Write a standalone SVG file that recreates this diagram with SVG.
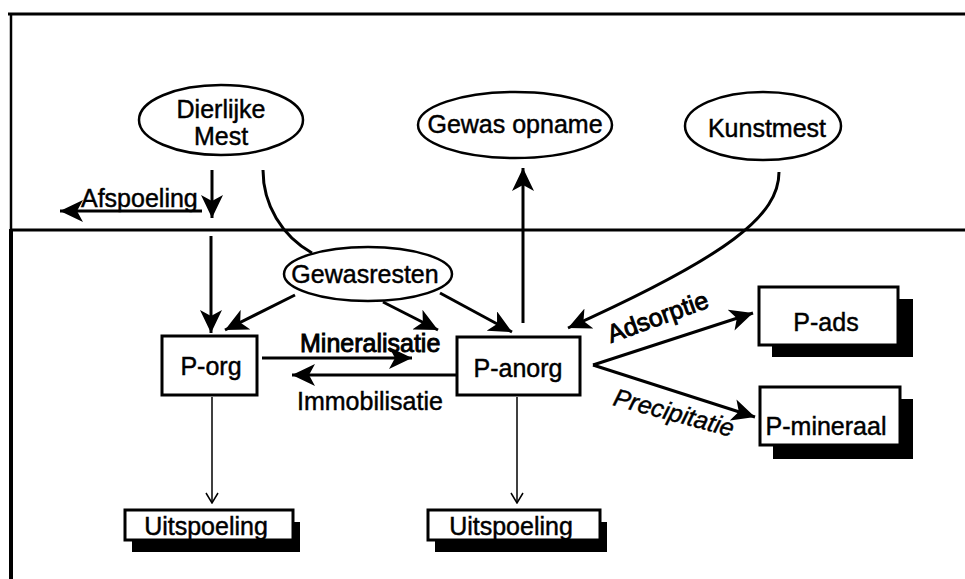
<svg xmlns="http://www.w3.org/2000/svg" width="965" height="579" viewBox="0 0 965 579">
  <style>
    .t{font-family:"Liberation Sans",Arial,Helvetica,sans-serif;font-size:25px;fill:#000;stroke:#000;stroke-width:0.45}
    .b{stroke-width:0.9}
    .c{text-anchor:middle}
    .box{fill:#fff;stroke:#000;stroke-width:3}
    .oval{fill:#fff;stroke:#000;stroke-width:2.5}
    .shadow{fill:#000}
    .ln{fill:none;stroke:#000;stroke-width:3}
    .thin{fill:none;stroke:#000;stroke-width:1.5}
    .frame{fill:none;stroke:#000}
  </style>
  <defs>
    <!-- barbed filled arrowhead -->
    <marker id="ah" markerUnits="userSpaceOnUse" markerWidth="24" markerHeight="22" viewBox="0 0 24 22" refX="23" refY="11" orient="auto">
      <path d="M0,0 L23,11 L0,22 L6,11 Z" fill="#000"/>
    </marker>
    <!-- small open arrowhead for leaching lines -->
    <marker id="av" markerUnits="userSpaceOnUse" markerWidth="12" markerHeight="14" viewBox="0 0 12 14" refX="11" refY="7" orient="auto">
      <path d="M1,1 L11,7 L1,13" fill="none" stroke="#000" stroke-width="1.5"/>
    </marker>
  </defs>

  <rect width="965" height="579" fill="#fff"/>

  <!-- frame and soil surface -->
  <g id="frame">
    <line class="frame" x1="8" y1="14" x2="965" y2="14" stroke-width="3"/>
    <line class="frame" x1="11" y1="13" x2="11" y2="231" stroke-width="2.5"/>
    <line class="frame" x1="11" y1="229" x2="11" y2="579" stroke-width="4"/>
    <line class="frame" x1="10" y1="230" x2="965" y2="230" stroke-width="3"/>
  </g>

  <!-- connectors -->
  <g id="connectors">
    <line class="ln" x1="212" y1="170" x2="212" y2="218" marker-end="url(#ah)"/>
    <line class="ln" x1="202" y1="211" x2="60" y2="211" marker-end="url(#ah)"/>
    <path class="ln" d="M263,170 C263,205 282,236 312,253"/>
    <line class="ln" x1="211" y1="236" x2="211" y2="333" marker-end="url(#ah)"/>
    <line class="ln" x1="295" y1="295" x2="225" y2="330" marker-end="url(#ah)"/>
    <line class="ln" x1="383" y1="302" x2="438" y2="330" marker-end="url(#ah)"/>
    <line class="ln" x1="440" y1="293" x2="512" y2="332" marker-end="url(#ah)"/>
    <line class="ln" x1="262" y1="358" x2="412" y2="358" marker-end="url(#ah)"/>
    <line class="ln" x1="457" y1="375" x2="292" y2="375" marker-end="url(#ah)"/>
    <line class="ln" x1="523" y1="323" x2="523" y2="168" marker-end="url(#ah)"/>
    <path class="ln" d="M779,172 C779,215 730,255 568,328" marker-end="url(#ah)"/>
    <line class="ln" x1="593" y1="365" x2="753" y2="313" marker-end="url(#ah)"/>
    <line class="ln" x1="593" y1="365" x2="755" y2="417" marker-end="url(#ah)"/>
    <line class="thin" x1="212" y1="397" x2="212" y2="503" marker-end="url(#av)"/>
    <line class="thin" x1="517" y1="397" x2="517" y2="503" marker-end="url(#av)"/>
  </g>

  <!-- process labels -->
  <g id="labels">
    <text class="t" x="81" y="207">Afspoeling</text>
    <text class="t b" x="300" y="352">Mineralisatie</text>
    <text class="t" x="297" y="410">Immobilisatie</text>
    <text class="t b" x="611" y="343" transform="rotate(-20 611 343)">Adsorptie</text>
    <text class="t" x="612" y="405" font-style="italic" transform="rotate(15 612 405)">Precipitatie</text>
  </g>

  <!-- sources above the soil surface -->
  <g id="dierlijke-mest">
    <ellipse class="oval" cx="221" cy="120" rx="82" ry="35"/>
    <text class="t c" x="221" y="118">Dierlijke</text>
    <text class="t c" x="221" y="145">Mest</text>
  </g>
  <g id="gewas-opname">
    <ellipse class="oval" cx="515" cy="125" rx="97" ry="33"/>
    <text class="t c" x="515" y="133">Gewas opname</text>
  </g>
  <g id="kunstmest">
    <ellipse class="oval" cx="763" cy="126" rx="78" ry="34"/>
    <text class="t c" x="767" y="137">Kunstmest</text>
  </g>

  <!-- soil pools -->
  <g id="gewasresten">
    <ellipse class="oval" cx="368" cy="274" rx="84" ry="27"/>
    <text class="t c" x="365" y="283">Gewasresten</text>
  </g>
  <g id="p-org">
    <rect class="box" x="162" y="336" width="95" height="59"/>
    <text class="t c" x="211" y="375">P-org</text>
  </g>
  <g id="p-anorg">
    <rect class="box" x="457" y="337" width="123" height="58"/>
    <text class="t c" x="518" y="377">P-anorg</text>
  </g>
  <g id="p-ads">
    <rect class="shadow" x="772" y="299" width="141" height="58"/>
    <rect class="box" x="759" y="287" width="139" height="58"/>
    <text class="t c" x="826" y="331">P-ads</text>
  </g>
  <g id="p-mineraal">
    <rect class="shadow" x="773" y="399" width="140" height="60"/>
    <rect class="box" x="760" y="387" width="140" height="58"/>
    <text class="t c" x="826" y="435">P-mineraal</text>
  </g>
  <g id="uitspoeling-org">
    <rect class="shadow" x="132" y="522" width="168" height="30"/>
    <rect class="box" x="125" y="510" width="168" height="30"/>
    <text class="t c" x="206" y="535">Uitspoeling</text>
  </g>
  <g id="uitspoeling-anorg">
    <rect class="shadow" x="435" y="522" width="172" height="30"/>
    <rect class="box" x="428" y="510" width="172" height="30"/>
    <text class="t c" x="511" y="535">Uitspoeling</text>
  </g>
</svg>
